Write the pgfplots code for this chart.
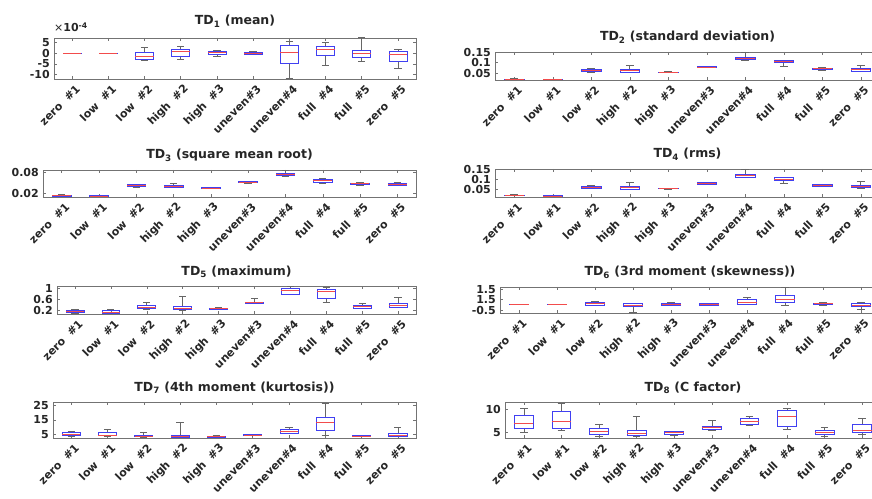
\documentclass[border=0pt]{standalone}
\usepackage{fontspec}
\setmainfont{DejaVu Sans}
\usepackage{pgfplots}
\usepackage{pgfplotstable}
\usepgfplotslibrary{statistics}
\pgfplotsset{compat=1.18}

\definecolor{boxc}{rgb}{0.25,0.25,0.95}
\definecolor{medc}{rgb}{0.95,0.3,0.3}
\definecolor{axc}{rgb}{0.45,0.45,0.45}
\definecolor{txc}{rgb}{0.15,0.15,0.15}

\pgfplotstableread{
lw lq med uq uw
-0.05 -0.02 0 0.02 0.05
-0.05 -0.02 0 0.02 0.05
-3.3 -2.8 -1.6 0.5 2.8
-2.7 -1.25 0.8 1.9 3.1
-1.6 -0.5 0.3 0.8 1.6
-0.6 -0.4 0 0.5 1.0
-11.7 -4.7 0.5 3.9 5.8
-5.8 -0.8 1.9 3.4 5.2
-4.0 -1.9 -0.3 1.25 7.3
-7.0 -4.0 -0.6 0.8 1.9
}\tdA

\pgfplotstableread{
lw lq med uq uw
0.019 0.020 0.021 0.022 0.024
0.018 0.019 0.020 0.021 0.022
0.056 0.059 0.064 0.068 0.072
0.053 0.056 0.062 0.067 0.085
0.053 0.054 0.055 0.056 0.057
0.076 0.077 0.079 0.081 0.083
0.113 0.116 0.122 0.127 0.148
0.081 0.099 0.105 0.111 0.112
0.064 0.067 0.071 0.074 0.077
0.059 0.060 0.066 0.071 0.087
}\tdB

\pgfplotstableread{
lw lq med uq uw
0.010 0.0105 0.012 0.014 0.015
0.0095 0.010 0.011 0.012 0.013
0.038 0.039 0.042 0.0448 0.0467
0.036 0.037 0.040 0.043 0.0495
0.034 0.0345 0.035 0.036 0.0365
0.049 0.050 0.052 0.054 0.055
0.0695 0.0705 0.073 0.076 0.087
0.0495 0.052 0.056 0.060 0.064
0.042 0.0457 0.0476 0.0495 0.0514
0.041 0.042 0.0447 0.0467 0.0524
}\tdC

\pgfplotstableread{
lw lq med uq uw
0.019 0.020 0.022 0.023 0.025
0.016 0.017 0.018 0.019 0.021
0.057 0.058 0.063 0.067 0.073
0.052 0.053 0.060 0.067 0.087
0.053 0.054 0.055 0.056 0.057
0.077 0.078 0.081 0.084 0.086
0.113 0.113 0.122 0.128 0.150
0.082 0.095 0.103 0.112 0.113
0.066 0.068 0.072 0.075 0.077
0.058 0.062 0.067 0.072 0.090
}\tdD

\pgfplotstableread{
lw lq med uq uw
0.10 0.13 0.17 0.21 0.24
0.09 0.10 0.14 0.20 0.25
0.25 0.26 0.32 0.38 0.49
0.22 0.24 0.28 0.35 0.71
0.24 0.25 0.27 0.29 0.32
0.45 0.45 0.48 0.50 0.64
0.78 0.78 0.93 1.00 1.09
0.50 0.64 0.89 0.99 1.06
0.28 0.29 0.34 0.39 0.46
0.30 0.30 0.39 0.47 0.67
}\tdE

\pgfplotstableread{
lw lq med uq uw
0.06 0.065 0.07 0.075 0.08
0.06 0.065 0.07 0.075 0.08
-0.05 -0.02 0.13 0.25 0.32
-0.73 -0.12 -0.02 0.13 0.16
-0.05 -0.02 0.07 0.19 0.22
-0.04 -0.02 0.04 0.10 0.12
0.04 0.04 0.22 0.50 0.72
-0.05 0.22 0.56 0.90 1.67
-0.01 0.01 0.10 0.19 0.22
-0.39 -0.18 -0.02 0.10 0.22
}\tdF

\pgfplotstableread{
lw lq med uq uw
3.8 4.1 5.2 6.2 6.9
3.8 4.3 4.5 6.4 8.3
3.1 3.4 3.8 4.5 6.2
2.9 3.1 3.6 4.1 13.2
3.1 3.1 3.4 3.8 4.3
4.0 4.1 4.3 4.8 4.9
5.7 5.9 7.1 8.5 9.5
4.5 7.6 13.5 16.8 26.6
3.4 3.4 3.8 4.3 4.6
3.6 3.8 4.5 5.5 9.7
}\tdG

\pgfplotstableread{
lw lq med uq uw
4.9 5.8 7.0 8.8 10.4
5.45 5.8 7.3 9.6 11.5
4.0 4.55 5.2 5.75 6.7
4.0 4.25 4.8 5.3 8.6
4.3 4.6 4.85 5.1 5.3
5.5 5.6 6.0 6.3 7.65
6.5 6.8 7.4 8.0 8.55
5.6 6.4 8.55 9.8 10.4
4.0 4.5 5.0 5.45 6.0
4.55 4.9 5.5 6.7 8.1
}\tdH

\pgfplotsset{
 td/.style={
  scale only axis, anchor=south west,
  xmin=0.5, xmax=10.5, xtick={1,...,10},
  xticklabels={zero\ \ \#1, low\ \ \#1, low\ \ \#2, high\ \ \#2, high\ \ \#3, uneven\#3, uneven\#4, full\ \ \#4, full\ \ \#5, zero\ \ \#5},
  scaled ticks=false,
  tick align=inside, major tick length=3pt,
  axis line style={axc, line width=0.6pt},
  tick style={axc, line width=0.5pt},
  tick label style={font=\bfseries\fontsize{11}{12}\selectfont, text=txc},
  xticklabel style={xshift=6pt, yshift=-8pt, rotate=45, anchor=east, inner sep=0pt},
  yticklabel style={inner sep=1pt, xshift=-3pt},
  title style={font=\bfseries\fontsize{12.5}{14}\selectfont, text=txc, at={(0.5,1)}, anchor=base, yshift=5pt},
  boxplot/draw direction=y,
  boxplot/box extend=0.5,
  boxplot/whisker extend=0.2,
  boxplot/every box/.style={draw=boxc, line width=0.7pt},
  boxplot/every median/.style={draw=medc, line width=0.7pt},
  boxplot/every whisker/.style={draw=black!60, line width=0.6pt},
  /pgf/number format/assume math mode=true,
 },
}

\newcommand{\boxes}[1]{%
 \pgfplotsinvokeforeach{0,...,9}{%
  \pgfplotstablegetelem{##1}{lw}\of#1\let\vlw\pgfplotsretval
  \pgfplotstablegetelem{##1}{lq}\of#1\let\vlq\pgfplotsretval
  \pgfplotstablegetelem{##1}{med}\of#1\let\vmed\pgfplotsretval
  \pgfplotstablegetelem{##1}{uq}\of#1\let\vuq\pgfplotsretval
  \pgfplotstablegetelem{##1}{uw}\of#1\let\vuw\pgfplotsretval
  \edef\doplot{\noexpand\addplot[boxplot prepared={draw position=\the\numexpr##1+1\relax, lower whisker=\vlw, lower quartile=\vlq, median=\vmed, upper quartile=\vuq, upper whisker=\vuw}] coordinates {};}%
  \doplot
 }%
}

\begin{document}
\begin{tikzpicture}
\useasboundingbox (0,0) rectangle (872pt,498pt);
\clip (0,0) rectangle (872pt,498pt);

% TD1
\begin{axis}[td, name=p1, at={(54pt,419pt)}, width=362pt, height=41pt,
  ymin=-12.2, ymax=7.2, ytick={-10,-5,0,5}, yticklabels={-10,-5,0,5},
  title={TD\textsubscript{1} (mean)}, title style={yshift=2pt}]
\boxes{\tdA}
\end{axis}
\node[anchor=base west, inner sep=0pt, text=txc, font=\fontsize{11}{12}\selectfont] at ([yshift=6pt]p1.north west) {×\textbf{10}\textsuperscript{\textbf{-4}}};

% TD2
\begin{axis}[td, at={(495pt,418pt)}, width=385pt, height=28pt,
  ymin=0.018, ymax=0.15, ytick={0.05,0.1,0.15}, yticklabels={0.05,0.1,0.15},
  title={TD\textsubscript{2} (standard deviation)}]
\boxes{\tdB}
\end{axis}

% TD3
\begin{axis}[td, at={(43pt,301pt)}, width=373pt, height=27pt,
  ymin=0.0086, ymax=0.0867, ytick={0.02,0.08}, yticklabels={0.02,0.08},
  title={TD\textsubscript{3} (square mean root)}]
\boxes{\tdC}
\end{axis}

% TD4
\begin{axis}[td, at={(495pt,301pt)}, width=385pt, height=28pt,
  ymin=0.013, ymax=0.153, ytick={0.05,0.1,0.15}, yticklabels={0.05,0.1,0.15},
  title={TD\textsubscript{4} (rms)}]
\boxes{\tdD}
\end{axis}

% TD5
\begin{axis}[td, at={(57pt,184pt)}, width=359pt, height=28pt,
  ymin=0.067, ymax=1.1, ytick={0.2,0.6,1}, yticklabels={0.2,0.6,1},
  title={TD\textsubscript{5} (maximum)}]
\boxes{\tdE}
\end{axis}

% TD6
\begin{axis}[td, at={(500pt,185pt)}, width=380pt, height=26pt,
  ymin=-0.78, ymax=1.72, ytick={-0.5,0.5,1.5}, yticklabels={-0.5,1.5,1.5},
  title={TD\textsubscript{6} (3rd moment (skewness))}]
\boxes{\tdF}
\end{axis}

% TD7
\begin{axis}[td, at={(53pt,60pt)}, width=363pt, height=36pt,
  ymin=2.4, ymax=27.4, ytick={5,15,25}, yticklabels={5,15,25},
  title={TD\textsubscript{7} (4th moment (kurtosis))}]
\boxes{\tdG}
\end{axis}

% TD8
\begin{axis}[td, at={(505pt,60pt)}, width=376pt, height=36pt,
  ymin=3.7, ymax=11.7, ytick={5,10}, yticklabels={5,10},
  title={TD\textsubscript{8} (C factor)}]
\boxes{\tdH}
\end{axis}
\end{tikzpicture}
\end{document}
